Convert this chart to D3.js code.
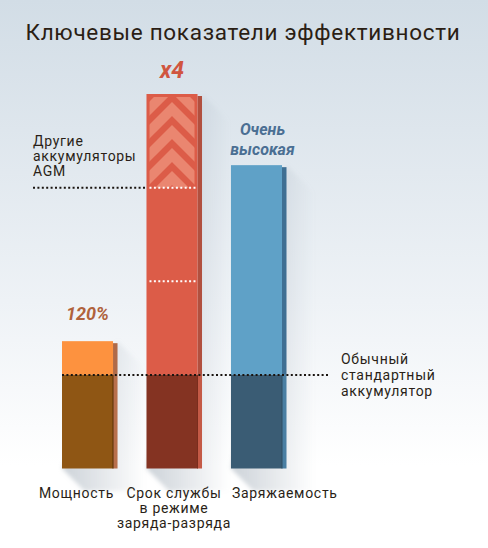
<!DOCTYPE html>
<html>
<head>
<meta charset="utf-8">
<script src="https://cdn.jsdelivr.net/npm/d3@7"></script>
<style>
  html, body { margin: 0; padding: 0; background: #fff; }
  svg { display: block; }
  text { font-family: Roboto, "DejaVu Sans", sans-serif; fill: #2a1f17; }
</style>
</head>
<body>
<svg id="chart" width="488" height="548"></svg>
<script>
// данные
var categories = ["Мощность", "Срок службы", "Заряжаемость"];
var values = [1.36, 4, 3.24];          // высота столбца в единицах "обычного" аккумулятора
var valueLabels = ["120%", "x4", "Очень высокая"];
var standardLevel = 1;                  // обычный стандартный аккумулятор
var agmLevel = 3;                       // другие аккумуляторы AGM
var midLevel = 2;
var categoryLines = [["Мощность"], ["Срок службы", "в режиме", "заряда-разряда"], ["Заряжаемость"]];

var topColors = ["#fd923f", "#dc5c48", "#5fa1c7"];
var bottomColors = ["#8f5614", "#843322", "#3a5c74"];
var sideTopColors = ["#b06a48", "#b1503f", "#3f6f93"];
var sideBottomColors = ["#b8704c", "#c45a46", "#4a7fa3"];
var edgeColors = ["#5a3108", "#7a2d1d", "#2f4e64"];
var labelColors = ["#b0623c", "#d0553f", "#4b6f93"];

var width = 488, height = 548;
var svg = d3.select("#chart");
var defs = svg.append("defs");

// фон
var bg = defs.append("linearGradient").attr("id", "bg")
    .attr("x1", 0).attr("y1", 0).attr("x2", 0).attr("y2", 1);
bg.append("stop").attr("offset", "0%").attr("stop-color", "#d2dde6");
bg.append("stop").attr("offset", "55%").attr("stop-color", "#eef2f6");
bg.append("stop").attr("offset", "85%").attr("stop-color", "#ffffff");
svg.append("rect").attr("width", width).attr("height", height).attr("fill", "url(#bg)");

// тень
var sh = defs.append("linearGradient").attr("id", "shadow")
    .attr("x1", 0).attr("y1", 0).attr("x2", 1).attr("y2", 0);
sh.append("stop").attr("offset", "0%").attr("stop-color", "#9aa6b2").attr("stop-opacity", 0.5);
sh.append("stop").attr("offset", "100%").attr("stop-color", "#9aa6b2").attr("stop-opacity", 0);
defs.append("filter").attr("id", "blur").append("feGaussianBlur").attr("stdDeviation", 2);

var x = d3.scaleBand().domain(categories).range([62, 282]).paddingInner(0.396).paddingOuter(0);
var y = d3.scaleLinear().domain([0, 4]).range([468.5, 94]);
var bw = x.bandwidth();
var depth = 4.5;

// заголовок
svg.append("text").attr("x", 243).attr("y", 40).attr("text-anchor", "middle")
    .style("font-size", "22.5px").style("letter-spacing", "0.7px").style("fill", "#2b1e14")
    .text("Ключевые показатели эффективности");

// тени столбцов
svg.append("g").selectAll("polygon").data(categories).enter().append("polygon")
    .attr("points", function (d, i) {
        var xl = x(d), xr = x(d) + bw + depth, t = y(values[i]), b = y(0), L = 28;
        return [[xr, t], [xr + L, t + L], [xr + L, b + L * 0.8], [xl + L * 0.8, b + L * 0.8], [xl, b]].join(" ");
    })
    .attr("fill", "url(#shadow)")
    .attr("filter", "url(#blur)");

var bars = svg.append("g").selectAll("g").data(categories).enter().append("g");

// боковая грань
bars.append("rect")
    .attr("x", d => x(d) + bw).attr("y", (d, i) => y(values[i]) + 2)
    .attr("width", depth).attr("height", (d, i) => y(standardLevel) - y(values[i]) - 2)
    .attr("fill", (d, i) => sideTopColors[i]);
bars.append("rect")
    .attr("x", d => x(d) + bw).attr("y", y(standardLevel))
    .attr("width", depth).attr("height", y(0) - y(standardLevel))
    .attr("fill", (d, i) => sideBottomColors[i]);

// лицевая грань
bars.append("rect")
    .attr("x", d => x(d)).attr("y", (d, i) => y(values[i]))
    .attr("width", bw).attr("height", (d, i) => y(standardLevel) - y(values[i]))
    .attr("fill", (d, i) => topColors[i]);
bars.append("rect")
    .attr("x", d => x(d)).attr("y", y(standardLevel))
    .attr("width", bw).attr("height", y(0) - y(standardLevel))
    .attr("fill", (d, i) => bottomColors[i]);
bars.append("line")
    .attr("x1", d => x(d) + bw).attr("x2", d => x(d) + bw)
    .attr("y1", y(standardLevel)).attr("y2", y(0))
    .attr("stroke", (d, i) => edgeColors[i]).attr("stroke-width", 1);

// шевроны на столбце "Срок службы"
var lc = categories[1];
var cx0 = x(lc) + 3, cw = bw - 6, ct = y(values[1]) + 3, cb = y(agmLevel);
defs.append("clipPath").attr("id", "chev").append("rect")
    .attr("x", cx0).attr("y", ct).attr("width", cw).attr("height", cb - ct);
var chevOffsets = d3.range(-1, 5);
var mid = x(lc) + bw / 2;
svg.append("g").attr("clip-path", "url(#chev)").selectAll("polyline").data(chevOffsets).enter()
    .append("polyline")
    .attr("points", function (k) {
        var py = ct + 12 + k * 23;
        return [[mid - 40, py + 40], [mid, py], [mid + 40, py + 40]].join(" ");
    })
    .attr("fill", "none").attr("stroke", "#ea8670").attr("stroke-width", 10);

// пунктиры
svg.append("line").attr("x1", 33).attr("x2", x(lc)).attr("y1", y(agmLevel)).attr("y2", y(agmLevel))
    .attr("stroke", "#1a1410").attr("stroke-width", 2).attr("stroke-dasharray", "2,2.4");
svg.append("line").attr("x1", x(lc) + 3).attr("x2", x(lc) + bw - 1).attr("y1", y(agmLevel)).attr("y2", y(agmLevel))
    .attr("stroke", "#ffffff").attr("stroke-width", 2).attr("stroke-dasharray", "2,2.4");
svg.append("line").attr("x1", x(lc) + 3).attr("x2", x(lc) + bw - 1).attr("y1", y(midLevel)).attr("y2", y(midLevel))
    .attr("stroke", "#ffffff").attr("stroke-width", 2).attr("stroke-dasharray", "2,2.4");
svg.append("line").attr("x1", x(categories[0])).attr("x2", 330).attr("y1", y(standardLevel)).attr("y2", y(standardLevel))
    .attr("stroke", "#1a1410").attr("stroke-width", 2).attr("stroke-dasharray", "2,2.4");

// подписи значений
var vl = svg.append("g").selectAll("text").data(categories).enter().append("text")
    .attr("text-anchor", "middle")
    .attr("x", (d, i) => x(d) + bw / 2 + (i === 2 ? 6 : 0))
    .attr("y", (d, i) => y(values[i]) - (i === 2 ? 30 : (i === 1 ? 16 : 21)))
    .style("font-weight", "bold").style("font-style", "italic")
    .style("font-size", (d, i) => i === 1 ? "23px" : (i === 0 ? "18px" : "16px"))
    .style("fill", (d, i) => labelColors[i]);
vl.each(function (d, i) {
    var t = d3.select(this);
    if (i === 2) {
        var w = valueLabels[i].split(" ");
        t.append("tspan").attr("x", t.attr("x")).attr("dy", 0).text(w[0]);
        t.append("tspan").attr("x", t.attr("x")).attr("dy", 20).text(w[1]);
    } else {
        t.text(valueLabels[i]);
    }
});

// пояснения к линиям
function multiline(lines, x0, y0, dy) {
    var t = svg.append("text").attr("x", x0).attr("y", y0)
        .style("font-size", "14px").style("letter-spacing", "0.7px");
    lines.forEach(function (s, j) {
        t.append("tspan").attr("x", x0).attr("dy", j === 0 ? 0 : dy).text(s);
    });
}
multiline(["Другие", "аккумуляторы", "AGM"], 33, 146, 15);
multiline(["Обычный", "стандартный", "аккумулятор"], 341, 364, 16);

// категории
var anchors = ["end", "middle", "start"];
svg.append("g").selectAll("text").data(categories).enter().append("text")
    .attr("text-anchor", (d, i) => anchors[i])
    .attr("x", (d, i) => i === 0 ? x(d) + bw + 1 : (i === 1 ? x(d) + bw / 2 + 2 : x(d) + 1))
    .attr("y", 498)
    .style("font-size", "14px").style("letter-spacing", "0.7px")
    .each(function (d, i) {
        var t = d3.select(this);
        categoryLines[i].forEach(function (s, j) {
            t.append("tspan").attr("x", t.attr("x")).attr("dy", j === 0 ? 0 : 15).text(s);
        });
    });
</script>
</body>
</html>
